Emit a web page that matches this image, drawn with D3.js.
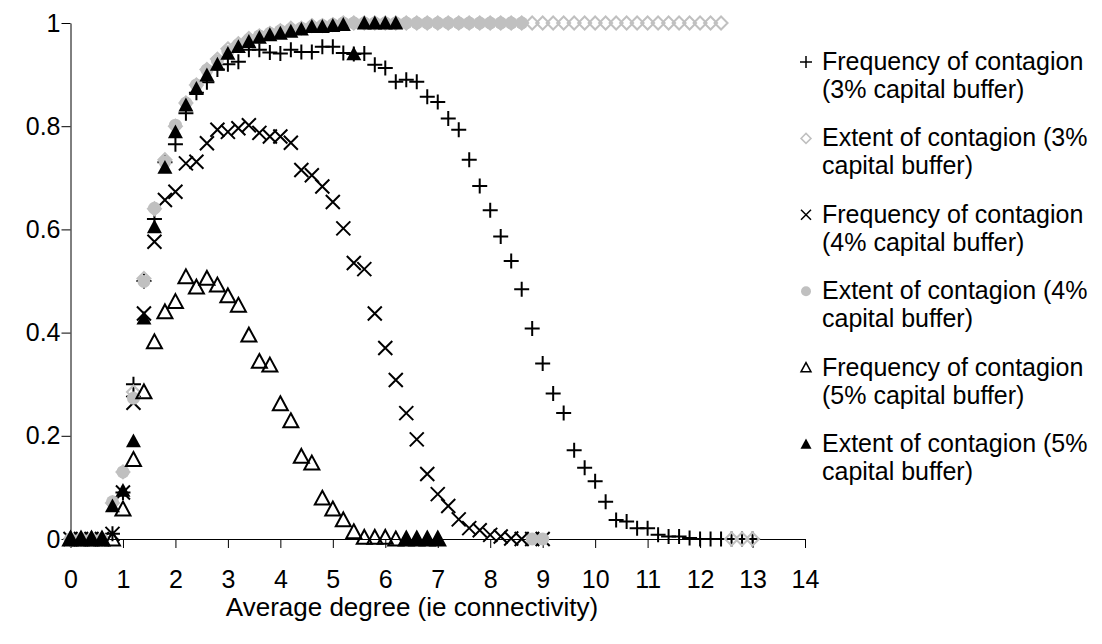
<!DOCTYPE html>
<html>
<head>
<meta charset="utf-8">
<script src="https://cdn.jsdelivr.net/npm/d3@7"></script>
<style>
  body { margin: 0; background: #fff; }
  text { font-family: "Liberation Sans", Arial, sans-serif; }
  .axis path, .axis line { stroke: #000; stroke-width: 1; }
  .axis text { font-size: 25px; fill: #000; }
</style>
</head>
<body>
<div class="chart"></div>
<script>
// average degree, step 0.2
const degree = [0, 0.2, 0.4, 0.6, 0.8, 1, 1.2, 1.4, 1.6, 1.8, 2, 2.2, 2.4, 2.6, 2.8, 3, 3.2, 3.4, 3.6, 3.8,
  4, 4.2, 4.4, 4.6, 4.8, 5, 5.2, 5.4, 5.6, 5.8, 6, 6.2, 6.4, 6.6, 6.8, 7, 7.2, 7.4, 7.6, 7.8,
  8, 8.2, 8.4, 8.6, 8.8, 9, 9.2, 9.4, 9.6, 9.8, 10, 10.2, 10.4, 10.6, 10.8, 11, 11.2, 11.4, 11.6, 11.8,
  12, 12.2, 12.4, 12.6, 12.8, 13];

// series values (index k -> degree[k])
const freq3 = [0, 0, 0, 0, 0.01, 0.09, 0.30, 0.50, 0.62, 0.73, 0.765, 0.825, 0.865, 0.885, 0.91, 0.92, 0.925, 0.948, 0.948, 0.943,
  0.941, 0.948, 0.944, 0.944, 0.954, 0.954, 0.942, 0.94, 0.941, 0.919, 0.913, 0.886, 0.89, 0.886, 0.857, 0.847, 0.815, 0.793, 0.735, 0.684,
  0.637, 0.586, 0.539, 0.484, 0.408, 0.34, 0.282, 0.244, 0.172, 0.138, 0.112, 0.072, 0.037, 0.034, 0.021, 0.021, 0.008, 0.005, 0.005, 0.002,
  0, 0, 0, 0, 0, 0];
const ext3 = [0, 0, 0, 0, 0.07, 0.13, 0.285, 0.505, 0.64, 0.735, 0.80, 0.845, 0.88, 0.91, 0.93, 0.95, 0.96, 0.97, 0.975, 0.98,
  0.985, 0.99, 0.99, 0.995, 0.995, 0.997, 1, 1, 1, 1, 1, 1, 1, 1, 1, 1, 1, 1, 1, 1,
  1, 1, 1, 1, 1, 1, 1, 1, 1, 1, 1, 1, 1, 1, 1, 1, 1, 1, 1, 1,
  1, 1, 1, 0, 0, 0];
const freq4 = [0, 0, 0, 0, 0.01, 0.09, 0.264, 0.437, 0.576, 0.657, 0.673, 0.728, 0.731, 0.767, 0.793, 0.789, 0.796, 0.802, 0.787, 0.78,
  0.78, 0.768, 0.715, 0.705, 0.683, 0.653, 0.602, 0.535, 0.523, 0.437, 0.37, 0.308, 0.244, 0.193, 0.126, 0.087, 0.064, 0.038, 0.021, 0.017,
  0.008, 0.005, 0.001, 0, 0, 0];
const ext4 = [0, 0, 0, 0, 0.072, 0.13, 0.273, 0.499, 0.641, 0.731, 0.802, 0.845, 0.88, 0.909, 0.927, 0.945, 0.958, 0.968, 0.975, 0.98,
  0.985, 0.988, 0.99, 0.993, 0.995, 0.997, 1, 1, 1, 1, 1, 1, 1, 1, 1, 1, 1, 1, 1, 1,
  1, 1, 1, 1, 0, 0];
const freq5 = [0, 0, 0, 0, 0, 0.058, 0.154, 0.285, 0.382, 0.44, 0.46, 0.508, 0.488, 0.505, 0.492, 0.471, 0.453, 0.395, 0.344, 0.337,
  0.262, 0.229, 0.16, 0.147, 0.079, 0.058, 0.037, 0.014, 0.003, 0.003, 0.003, 0, 0, 0, 0, 0];
const ext5 = [0, 0, 0, 0, 0.064, 0.094, 0.19, 0.428, 0.605, 0.72, 0.789, 0.841, 0.873, 0.899, 0.92, 0.941, 0.954, 0.964, 0.972, 0.977,
  0.98, 0.984, 0.988, 0.993, 0.993, 0.995, 0.997, 0.94, 1, 1, 1, 1, 0, 0, 0, 0];

const xTicks = [0, 1, 2, 3, 4, 5, 6, 7, 8, 9, 10, 11, 12, 13, 14];
const yTicks = [0, 0.2, 0.4, 0.6, 0.8, 1];
const labels = [
  ["Frequency of contagion", "(3% capital buffer)"],
  ["Extent of contagion (3%", "capital buffer)"],
  ["Frequency of contagion", "(4% capital buffer)"],
  ["Extent of contagion (4%", "capital buffer)"],
  ["Frequency of contagion", "(5% capital buffer)"],
  ["Extent of contagion (5%", "capital buffer)"]
];

// marker shapes, s = half size
function plusPath(s){ return `M${-s},0H${s}M0,${-s}V${s}`; }
function crossPath(s){ return `M${-s},${-s}L${s},${s}M${-s},${s}L${s},${-s}`; }
function diamondPath(s){ return `M0,${-s}L${s},0L0,${s}L${-s},0Z`; }
function trianglePath(s){ return `M0,${-s}L${s},${s*0.85}L${-s},${s*0.85}Z`; }
function circlePath(s){ return d3.arc()({innerRadius: 0, outerRadius: s, startAngle: 0, endAngle: 2*Math.PI}); }

const styles = [
  {path: plusPath,     size: 7.5, legend: 6,   fill: "none",    stroke: "#000",    sw: 2},
  {path: diamondPath,  size: 6.5, legend: 5,   fill: "none",    stroke: "#c0c0c0", sw: 2},
  {path: crossPath,    size: 7,   legend: 5,   fill: "none",    stroke: "#000",    sw: 2},
  {path: circlePath,   size: 6.5, legend: 5,   fill: "#c0c0c0", stroke: "none",    sw: 0},
  {path: trianglePath, size: 7.5, legend: 5,   fill: "none",    stroke: "#000",    sw: 2},
  {path: trianglePath, size: 7.5, legend: 5.5, fill: "#000",    stroke: "none",    sw: 0}
];
const series = [freq3, ext3, freq4, ext4, freq5, ext5];

const width = 1102, height = 644;

const svg = d3.select(".chart")
  .append("svg")
  .attr("width", width)
  .attr("height", height);

const x = d3.scaleLinear().domain([0, 14]).range([70.5, 805]);
const y = d3.scaleLinear().domain([0, 1]).range([539, 23]);

svg.append("g")
  .attr("class", "axis")
  .attr("transform", "translate(0,539)")
  .call(d3.axisBottom(x).tickValues(xTicks).tickSize(9).tickSizeOuter(0).tickPadding(22).tickFormat(d => d));

svg.append("g")
  .attr("class", "axis")
  .attr("transform", "translate(70.5,0)")
  .call(d3.axisLeft(y).tickValues(yTicks).tickSize(9).tickSizeOuter(0).tickPadding(1).tickFormat(d => String(d)));

svg.selectAll(".axis .domain").attr("stroke", "#000");

// axis title
svg.append("text")
  .attr("x", 412)
  .attr("y", 616)
  .attr("text-anchor", "middle")
  .style("font-size", "26px")
  .text("Average degree (ie connectivity)");

// points
series.forEach((vals, i) => {
  const st = styles[i];
  svg.append("g")
    .selectAll("path")
    .data(vals.map((v, k) => ({d: degree[k], v: v})))
    .enter()
    .append("path")
    .attr("transform", p => `translate(${x(p.d)},${y(p.v)})`)
    .attr("d", st.path(st.size))
    .attr("fill", st.fill)
    .attr("stroke", st.stroke)
    .attr("stroke-width", st.sw);
});

// legend
const legend = svg.append("g");
labels.forEach((lines, i) => {
  const st = styles[i];
  const by = 70 + i * 76.4;
  legend.append("path")
    .attr("transform", `translate(806,${by - 8})`)
    .attr("d", st.path(st.legend))
    .attr("fill", st.fill)
    .attr("stroke", st.stroke)
    .attr("stroke-width", st.sw ? 1.5 : 0);
  lines.forEach((t, j) => {
    legend.append("text")
      .attr("x", 822)
      .attr("y", by + j * 28)
      .style("font-size", "25px")
      .text(t);
  });
});
</script>
</body>
</html>
